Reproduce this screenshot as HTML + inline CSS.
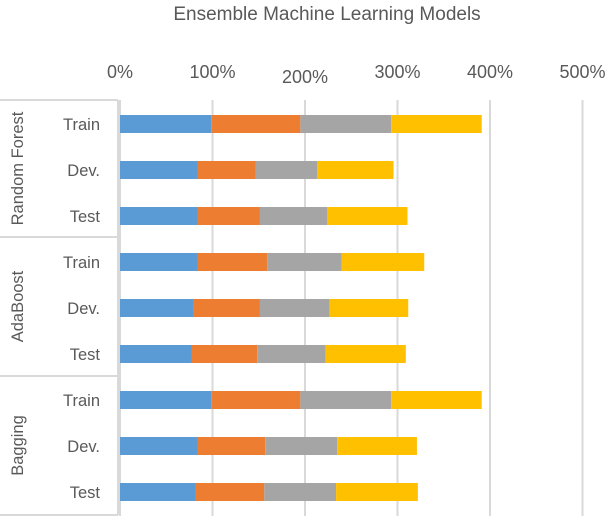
<!DOCTYPE html>
<html><head><meta charset="utf-8"><style>
body{margin:0;background:#fff;}
svg text{font-family:"Liberation Sans",sans-serif;fill:#595959;}
</style></head><body>
<svg id="chart" width="612" height="516" xmlns="http://www.w3.org/2000/svg">
<text x="327" y="20" font-size="19" text-anchor="middle">Ensemble Machine Learning Models</text>
<g id="grid"></g><g id="bars"></g><g id="labels"></g>
</svg>
<script>
const rowLabels=["Train","Dev.","Test","Train","Dev.","Test","Train","Dev.","Test"];
const groups=["Random Forest","AdaBoost","Bagging"];
const s1=[98.6,83.8,83.8,83.8,79.4,77.3,98.6,83.8,81.6];
const s2=[96.4,63.1,67.5,75.4,71.9,71.1,96.4,73.2,74.4];
const s3=[98.2,66.1,72.5,80.2,75.4,74.0,98.2,77.7,77.6];
const s4=[97.8,82.7,87.0,89.5,84.9,86.6,97.8,86.3,88.4];
const ticks=[0,100,200,300,400,500];
const tickLabels=["0%","100%","200%","300%","400%","500%"];
const colors=["#5B9BD5","#ED7D31","#A5A5A5","#FFC000"];
const NS="http://www.w3.org/2000/svg";
const x=v=>120+v*0.925;
const yc=i=>124+i*46;
function mk(p,t,a){const e=document.createElementNS(NS,t);for(const k in a)e.setAttribute(k,a[k]);p.appendChild(e);return e;}
const grid=document.getElementById('grid'),bars=document.getElementById('bars'),lab=document.getElementById('labels');
ticks.forEach((t,i)=>{
 const l=mk(grid,'line',{x1:x(t),x2:x(t),y1:100,y2:516,stroke:'#d9d9d9','stroke-width':2});
 
 
 const tx=mk(lab,'text',{x:x(t),y:t===200?83:78,'font-size':18,'text-anchor':'middle'});
 tx.textContent=tickLabels[i];
 
 
});
const series=[s1,s2,s3,s4];
rowLabels.forEach((r,i)=>{
 let acc=0;
 series.forEach((s,k)=>{
  const b=mk(bars,'rect',{x:x(acc),y:yc(i)-9,width:s[i]*0.925,height:18,fill:colors[k]});
  
  
  acc+=s[i];
 });
 const t=mk(lab,'text',{x:100,y:yc(i)+6,'font-size':16.5,'text-anchor':'end'});
 t.textContent=r;
 
 
});
[100,237,376,515].forEach(y=>{
 const l=mk(grid,'line',{x1:0,x2:118,y1:y,y2:y,stroke:'#d9d9d9','stroke-width':2});
 
 
});
const vl=mk(grid,'line',{x1:118,x2:118,y1:100,y2:515,stroke:'#d9d9d9','stroke-width':2});


const gb=[100,237,376,515];
groups.forEach((g,i)=>{
 const cy=(gb[i]+gb[i+1])/2;
 const t=mk(lab,'text',{x:0,y:0,'font-size':16.5,'text-anchor':'middle',transform:`translate(23,${cy}) rotate(-90)`});
 t.textContent=g;
 
 
});
</script>
</body></html>
